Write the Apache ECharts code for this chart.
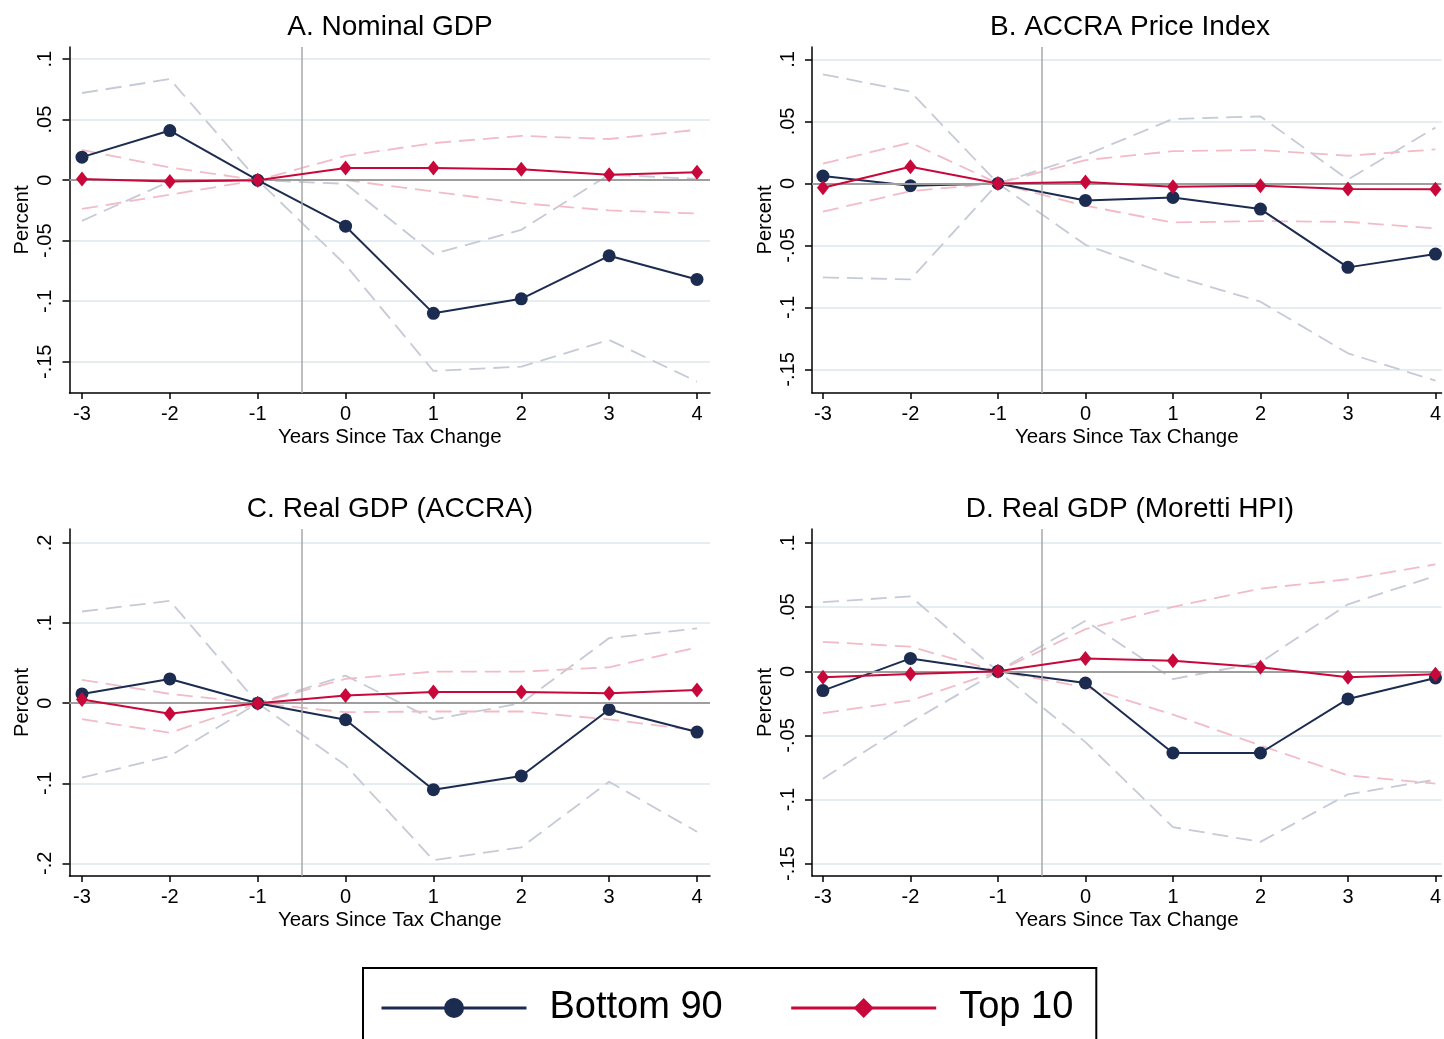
<!DOCTYPE html>
<html>
<head>
<meta charset="utf-8">
<script src="https://cdn.jsdelivr.net/npm/echarts@6/dist/echarts.min.js"></script>
<style>
html,body{margin:0;padding:0;background:#fff;}
#chart{width:1444px;height:1039px;}
</style>
</head>
<body>
<div id="chart"></div>
<script>
// ---- data ----
const years = [-3, -2, -1, 0, 1, 2, 3, 4];
const yTicksSmall = [-0.15, -0.1, -0.05, 0, 0.05, 0.1];
const yTicksLarge = [-0.2, -0.1, 0, 0.1, 0.2];
const panelTitles = ['A. Nominal GDP', 'B. ACCRA Price Index', 'C. Real GDP (ACCRA)', 'D. Real GDP (Moretti HPI)'];

// Panel A: Nominal GDP
const nomBottom   = [0.019, 0.041, 0, -0.038, -0.110, -0.098, -0.0625, -0.082];
const nomTop      = [0.001, -0.001, 0, 0.010, 0.010, 0.009, 0.0045, 0.0066];
const nomBottomHi = [0.072, 0.0835, 0, -0.003, -0.061, -0.041, 0.0045, 0.001];
const nomBottomLo = [-0.0336, -0.001, 0, -0.070, -0.1576, -0.154, -0.132, -0.1664];
const nomTopHi    = [0.025, 0.0105, 0, 0.020, 0.0306, 0.0366, 0.034, 0.0416];
const nomTopLo    = [-0.0237, -0.012, 0, 0.000, -0.0094, -0.019, -0.025, -0.0275];

// Panel B: ACCRA Price Index
const accBottom   = [0.0059, -0.0019, 0, -0.0137, -0.0113, -0.0207, -0.0677, -0.057];
const accTop      = [-0.0035, 0.0134, 0, 0.0011, -0.0027, -0.0019, -0.0046, -0.0048];
const accBottomHi = [0.088, 0.074, 0, 0.0228, 0.052, 0.054, 0.0032, 0.045];
const accBottomLo = [-0.0758, -0.0774, 0, -0.0495, -0.0747, -0.0954, -0.137, -0.159];
const accTopHi    = [0.016, 0.0328, 0, 0.0188, 0.026, 0.0269, 0.0223, 0.0274];
const accTopLo    = [-0.0228, -0.0062, 0, -0.018, -0.0315, -0.0304, -0.031, -0.0363];

// Panel C: Real GDP (ACCRA)
const rgaBottom   = [0.0116, 0.0303, 0, -0.0207, -0.108, -0.0909, -0.0079, -0.0361];
const rgaTop      = [0.0046, -0.0133, 0, 0.0095, 0.0141, 0.0141, 0.0124, 0.0166];
const rgaBottomHi = [0.1145, 0.1278, 0, 0.0344, -0.0203, 0.0, 0.0813, 0.0934];
const rgaBottomLo = [-0.093, -0.066, 0, -0.0776, -0.196, -0.180, -0.098, -0.1606];
const rgaTopHi    = [0.029, 0.0116, 0, 0.0303, 0.0394, 0.0394, 0.0448, 0.0697];
const rgaTopLo    = [-0.020, -0.037, 0, -0.0112, -0.0104, -0.0104, -0.0203, -0.034];

// Panel D: Real GDP (Moretti HPI)
const rgmBottom   = [-0.015, 0.0101, 0, -0.0091, -0.0637, -0.0637, -0.0215, -0.0052];
const rgmTop      = [-0.0047, -0.0021, 0, 0.0101, 0.0083, 0.0031, -0.0047, -0.0023];
const rgmBottomHi = [0.0539, 0.0585, 0, 0.0394, -0.006, 0.007, 0.0523, 0.0744];
const rgmBottomLo = [-0.0837, -0.0396, 0, -0.0552, -0.1215, -0.133, -0.0959, -0.0845];
const rgmTopHi    = [0.023, 0.0192, 0, 0.0329, 0.0503, 0.0645, 0.0718, 0.0834];
const rgmTopLo    = [-0.0326, -0.0228, 0, -0.0124, -0.0337, -0.0578, -0.0811, -0.0876];

// ---- styling / layout ----
const FONT = '"Liberation Sans", Arial, Helvetica, sans-serif';
const NAVY = '#1c2b50';
const RED = '#c8083a';
const GRAYCI = '#c6cad7';
const PINKCI = '#f2bbc7';

const panels = [
  {left: 69.5, width: 640.5, xmin: -3.142, xmax: 4.148, top: 47, height: 346, ymin: -0.1758, ymax: 0.110, ticks: yTicksSmall,
   d: [nomBottom, nomTop, nomBottomHi, nomBottomLo, nomTopHi, nomTopLo], tx: 390, ty: 13},
  {left: 812, width: 632, xmin: -3.125, xmax: 4.07, top: 47, height: 346, ymin: -0.169, ymax: 0.110, ticks: yTicksSmall,
   d: [accBottom, accTop, accBottomHi, accBottomLo, accTopHi, accTopLo], tx: 1130, ty: 13},
  {left: 69.5, width: 640.5, xmin: -3.142, xmax: 4.148, top: 529, height: 347, ymin: -0.2158, ymax: 0.2175, ticks: yTicksLarge,
   d: [rgaBottom, rgaTop, rgaBottomHi, rgaBottomLo, rgaTopHi, rgaTopLo], tx: 390, ty: 495},
  {left: 812, width: 632, xmin: -3.125, xmax: 4.07, top: 529, height: 347, ymin: -0.1596, ymax: 0.111, ticks: yTicksSmall,
   d: [rgmBottom, rgmTop, rgmBottomHi, rgmBottomLo, rgmTopHi, rgmTopLo], tx: 1130, ty: 495}
];

function fmtY(v) {
  let s = String(+Number(v).toFixed(4));
  return s.replace(/^(-?)0\./, '$1.');
}
function pairs(arr) { return years.map((x, i) => [x, arr[i]]); }

const grids = [], xAxes = [], yAxes = [], series = [], titles = [];
panels.forEach((p, i) => {
  grids.push({left: p.left, top: p.top, width: p.width, height: p.height, containLabel: false});
  xAxes.push({
    type: 'value', gridIndex: i, min: p.xmin, max: p.xmax,
    name: 'Years Since Tax Change', nameLocation: 'middle', nameGap: 34,
    nameTextStyle: {fontFamily: FONT, fontSize: 20.5, color: '#000'},
    axisLine: {show: true, onZero: false, lineStyle: {color: '#000', width: 1.5}},
    axisTick: {show: true, length: 6, customValues: years, lineStyle: {color: '#000', width: 1.5}},
    axisLabel: {customValues: years, fontFamily: FONT, fontSize: 20, color: '#000', margin: 11,
                formatter: v => String(v)},
    splitLine: {show: false}
  });
  yAxes.push({
    type: 'value', gridIndex: i, min: p.ymin, max: p.ymax,
    name: 'Percent', nameLocation: 'middle', nameGap: 37, nameRotate: 90,
    nameTextStyle: {fontFamily: FONT, fontSize: 20, color: '#000'},
    axisLine: {show: true, onZero: false, lineStyle: {color: '#000', width: 1.5}},
    axisTick: {show: true, length: 7, customValues: p.ticks, lineStyle: {color: '#000', width: 1.5}},
    axisLabel: {customValues: p.ticks, rotate: 90, fontFamily: FONT, fontSize: 20, color: '#000',
                margin: 14, formatter: fmtY},
    splitLine: {show: true, lineStyle: {color: '#e5edf0', width: 1.8}}
  });
  titles.push({text: panelTitles[i], left: p.tx, top: p.ty, textAlign: 'center', padding: 0,
               textStyle: {fontFamily: FONT, fontSize: 28, fontWeight: 'normal', color: '#000'}});

  const ciStyle = (c) => ({color: c, width: 1.8, type: [16, 8]});
  const [b, t, bh, bl, th, tl] = p.d;
  series.push({type: 'line', name: 'ref' + i, xAxisIndex: i, yAxisIndex: i, data: [],
    silent: true, z: 1, animation: false,
    markLine: {silent: true, symbol: 'none', label: {show: false}, animation: false,
      data: [{yAxis: 0, lineStyle: {color: '#9e9e9e', width: 2, type: 'solid'}},
             {xAxis: -0.5, lineStyle: {color: '#a8a8a8', width: 1.5, type: 'solid'}}]}});
  [[bh, GRAYCI], [bl, GRAYCI], [th, PINKCI], [tl, PINKCI]].forEach(([arr, c], k) => {
    series.push({type: 'line', name: 'ci' + i + '_' + k, xAxisIndex: i, yAxisIndex: i,
      data: pairs(arr), symbol: 'none', lineStyle: ciStyle(c), z: 2, silent: true, animation: false});
  });
  series.push({type: 'line', name: 'Bottom 90', xAxisIndex: i, yAxisIndex: i, data: pairs(b),
    symbol: 'circle', symbolSize: 13, itemStyle: {color: NAVY}, lineStyle: {color: NAVY, width: 2},
    z: 4, animation: false});
  series.push({type: 'line', name: 'Top 10', xAxisIndex: i, yAxisIndex: i, data: pairs(t),
    symbol: 'diamond', symbolSize: [12, 15], itemStyle: {color: RED}, lineStyle: {color: RED, width: 2},
    z: 5, animation: false});
});

const chart = echarts.init(document.getElementById('chart'), null, {renderer: 'canvas'});
chart.setOption({
  backgroundColor: '#fff',
  animation: false,
  title: titles,
  grid: grids,
  xAxis: xAxes,
  yAxis: yAxes,
  legend: {
    data: ['Bottom 90', 'Top 10'],
    left: 363, top: 968,
    orient: 'horizontal',
    itemWidth: 145, itemHeight: 25, itemGap: 67,
    padding: [21, 23, 40, 17],
    borderColor: '#000', borderWidth: 2,
    lineStyle: {width: 3},
    textStyle: {fontFamily: FONT, fontSize: 38, color: '#000', padding: [0, 0, 0, 18]},
    selectedMode: false
  },
  series: series
});
</script>
</body>
</html>
